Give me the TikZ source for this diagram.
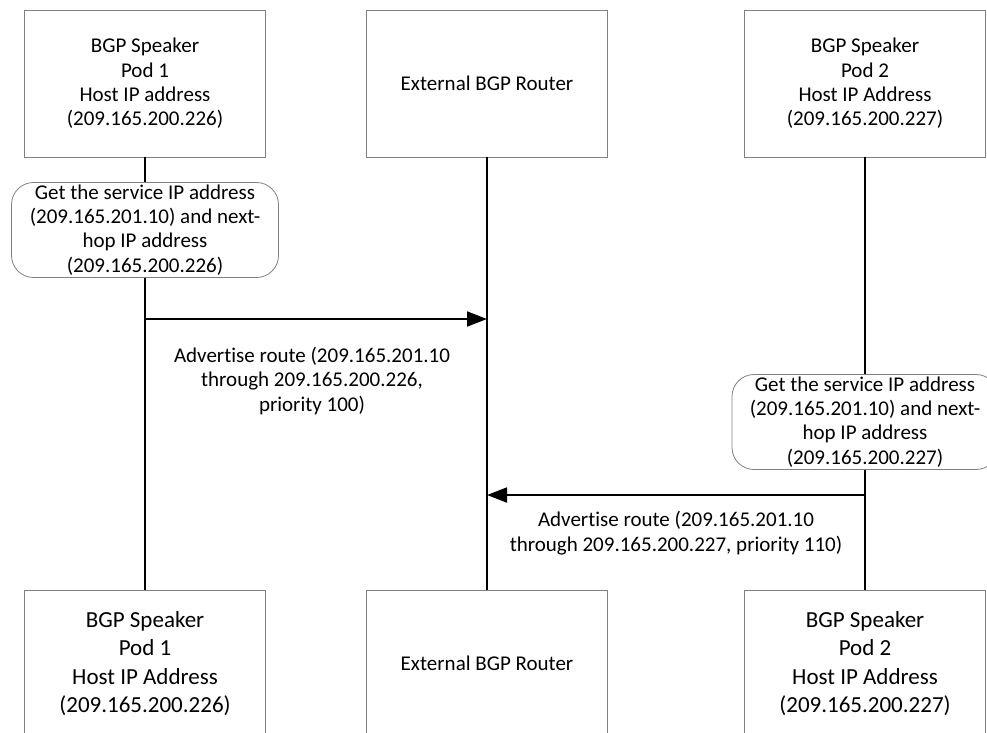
\documentclass[tikz,border=0pt]{standalone}
\usepackage{fontspec}
\setmainfont{Carlito}[Ligatures=CommonOff]
\usetikzlibrary{arrows.meta,positioning}

\tikzset{
  box/.style = {draw = gray, line width = 0.8pt, align = center, inner sep = 0pt,
    minimum width = 241pt, minimum height = 147pt,
    font = \fontsize{21}{24.3}\selectfont},
  bigbox/.style = {box, font = \fontsize{23}{28.5}\selectfont},
  task/.style = {draw = gray, line width = 0.8pt, rounded corners = 22pt, align = center,
    inner sep = 0pt, minimum height = 95pt,
    font = \fontsize{21}{24.3}\selectfont},
  life/.style = {line width = 1.8pt},
  msg/.style = {life, -{Triangle[length = 20pt, width = 15pt]}},
  note/.style = {align = center, inner sep = 0pt, font = \fontsize{21}{24.3}\selectfont},
}

\begin{document}
\begin{tikzpicture}[x = 1pt, y = -1pt]
  \useasboundingbox (0,0) rectangle (987,732);
  \clip (0,0) rectangle (987,732);

  % top row
  \node[box] (s1) at (145,83.5) {BGP Speaker\\Pod 1\\Host IP address\\(209.165.200.226)};
  \node[box] (r1) at (487,83.5) {External BGP Router};
  \node[box] (s2) at (865,83.5) {BGP Speaker\\Pod 2\\Host IP Address\\(209.165.200.227)};

  % bottom row
  \node[bigbox] (b1) at (145,663.5) {BGP Speaker\\Pod 1\\Host IP Address\\(209.165.200.226)};
  \node[box] (r2) at (487,663.5) {External BGP Router};
  \node[bigbox] (b2) at (865,663.5) {BGP Speaker\\Pod 2\\Host IP Address\\(209.165.200.227)};

  % local steps
  \node[task, minimum width = 267pt] (g1) at (145,230)
    {Get the service IP address\\(209.165.201.10) and next-\\hop IP address\\(209.165.200.226)};
  \node[task, minimum width = 266pt] (g2) at (865,422)
    {Get the service IP address\\(209.165.201.10) and next-\\hop IP address\\(209.165.200.227)};

  % lifelines
  \draw[life] (s1) -- (g1);
  \draw[life] (g1) -- (b1);
  \draw[life] (r1) -- (r2);
  \draw[life] (s2) -- (g2);
  \draw[life] (g2) -- (b2);

  % messages
  \coordinate (m1) at (145,319);
  \coordinate (m1end) at (487,319);
  \coordinate (m2) at (865,495);
  \coordinate (m2end) at (487,495);
  \draw[msg] (m1) -- (m1end);
  \draw[msg] (m2) -- (m2end);

  \node[note] (n1) at (312,381)
    {Advertise route (209.165.201.10\\through 209.165.200.226,\\priority 100)};
  \node[note] (n2) at (676,533)
    {Advertise route (209.165.201.10\\through 209.165.200.227, priority 110)};
\end{tikzpicture}
\end{document}
